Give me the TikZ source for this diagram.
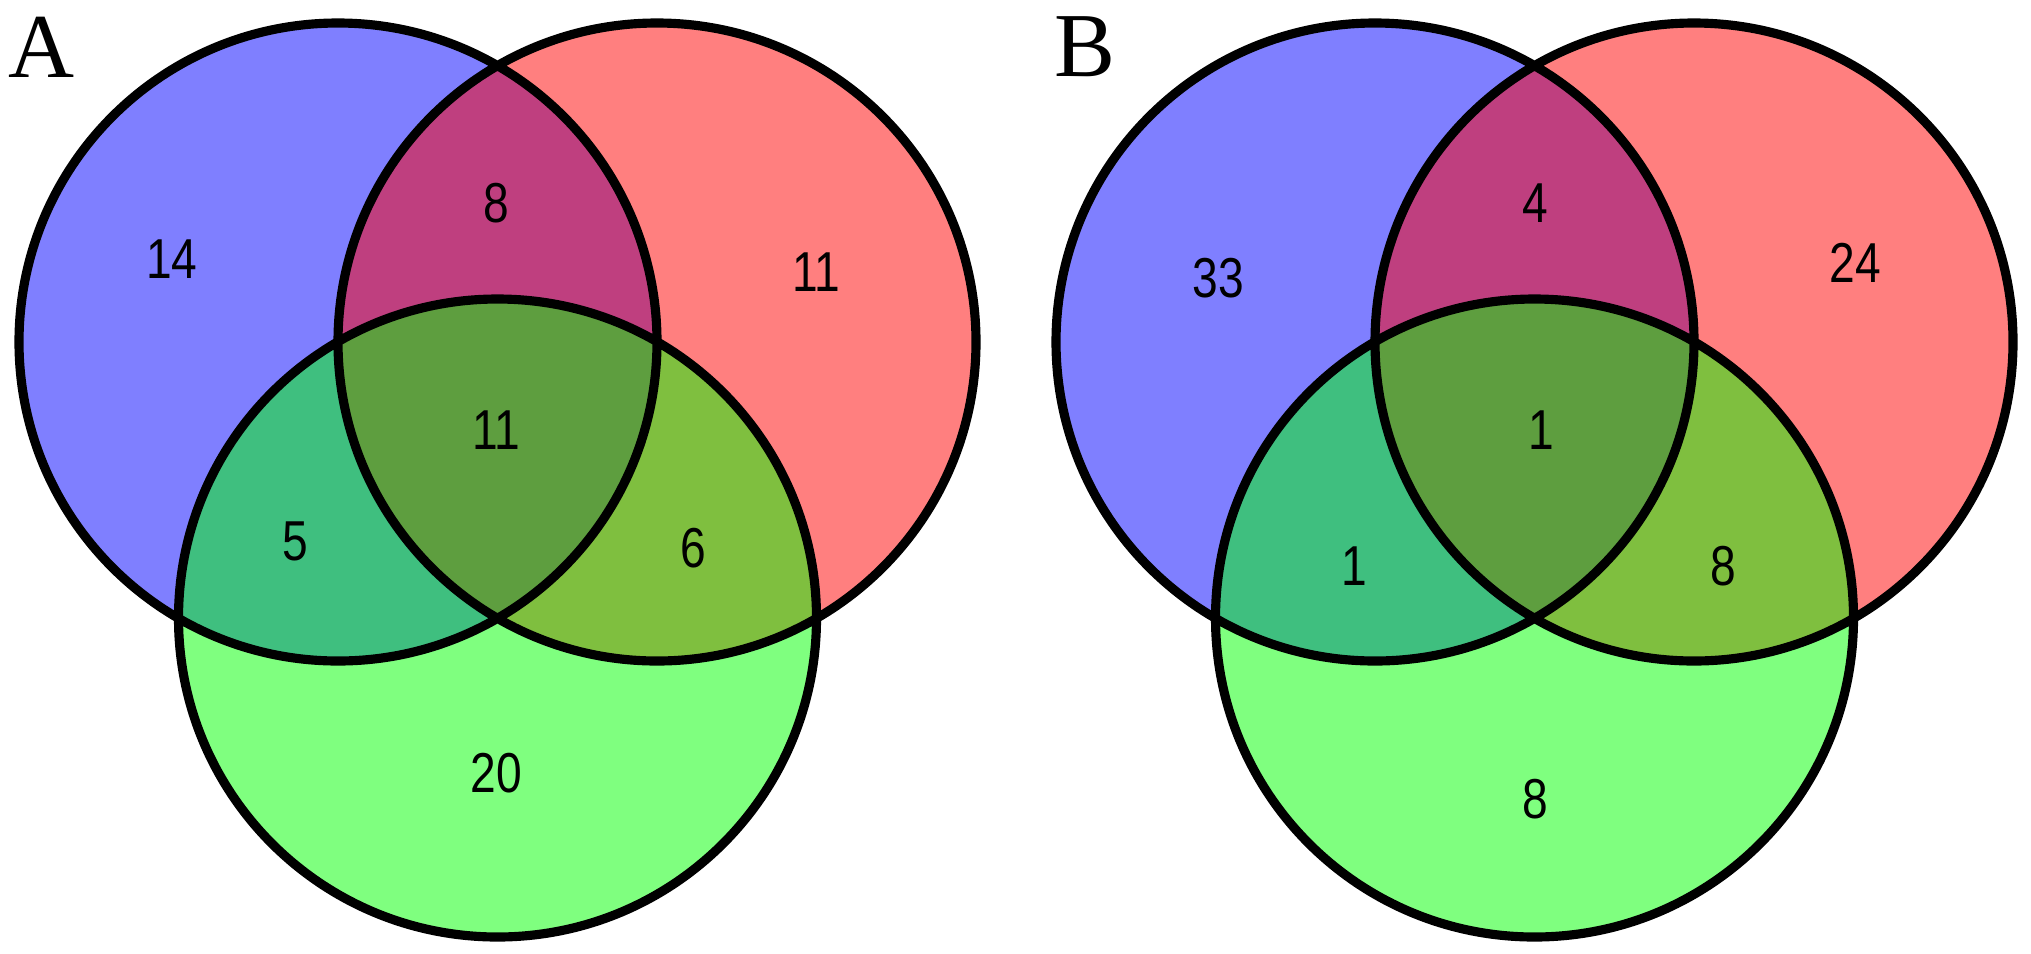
\documentclass[tikz,border=0pt]{standalone}
\usepackage{fontspec}
\setmainfont{Liberation Serif}
\newfontfamily\vennnum[FakeStretch=0.82]{Liberation Sans}

\begin{document}
\begin{tikzpicture}[x=0.01cm, y=0.01cm,
  setfill/.style={fill opacity=0.5},
  ring/.style={draw=black, line width=2.6pt},
  num/.style={font=\vennnum\fontsize{16}{19}\selectfont, inner sep=0pt},
  panel/.style={font=\fontsize{26}{31}\selectfont, inner sep=0pt}]
\useasboundingbox (0,0) rectangle (2031,953);
% panel A
\coordinate (aBlueC) at (338,611);
\coordinate (aRedC) at (657,611);
\coordinate (aGreenC) at (497.5,335);
\fill[setfill, blue] (aBlueC) circle (319);
\fill[setfill, red] (aRedC) circle (319);
\fill[setfill, green] (aGreenC) circle (319);
\draw[ring] (aBlueC) circle (319) (aRedC) circle (319) (aGreenC) circle (319);
\node[panel] (labA) at (42,906) {A};
\node[num] (aBlue) at (172,694) {14};
\node[num] (aBR) at (496,750) {8};
\node[num] (aRed) at (816,681) {11};
\node[num] (aAll) at (496,523) {11};
\node[num] (aBG) at (295,412) {5};
\node[num] (aRG) at (693,405) {6};
\node[num] (aGreen) at (496,180) {20};
% panel B
\coordinate (bBlueC) at (1375,611);
\coordinate (bRedC) at (1694,611);
\coordinate (bGreenC) at (1534.5,335);
\fill[setfill, blue] (bBlueC) circle (319);
\fill[setfill, red] (bRedC) circle (319);
\fill[setfill, green] (bGreenC) circle (319);
\draw[ring] (bBlueC) circle (319) (bRedC) circle (319) (bGreenC) circle (319);
\node[panel] (labB) at (1085,906) {B};
\node[num] (bBlue) at (1218,675) {33};
\node[num] (bBR) at (1535,750) {4};
\node[num] (bRed) at (1855,690) {24};
\node[num] (bAll) at (1541,523) {1};
\node[num] (bBG) at (1354,387) {1};
\node[num] (bRG) at (1723,387) {8};
\node[num] (bGreen) at (1535,154) {8};
\end{tikzpicture}
\end{document}
